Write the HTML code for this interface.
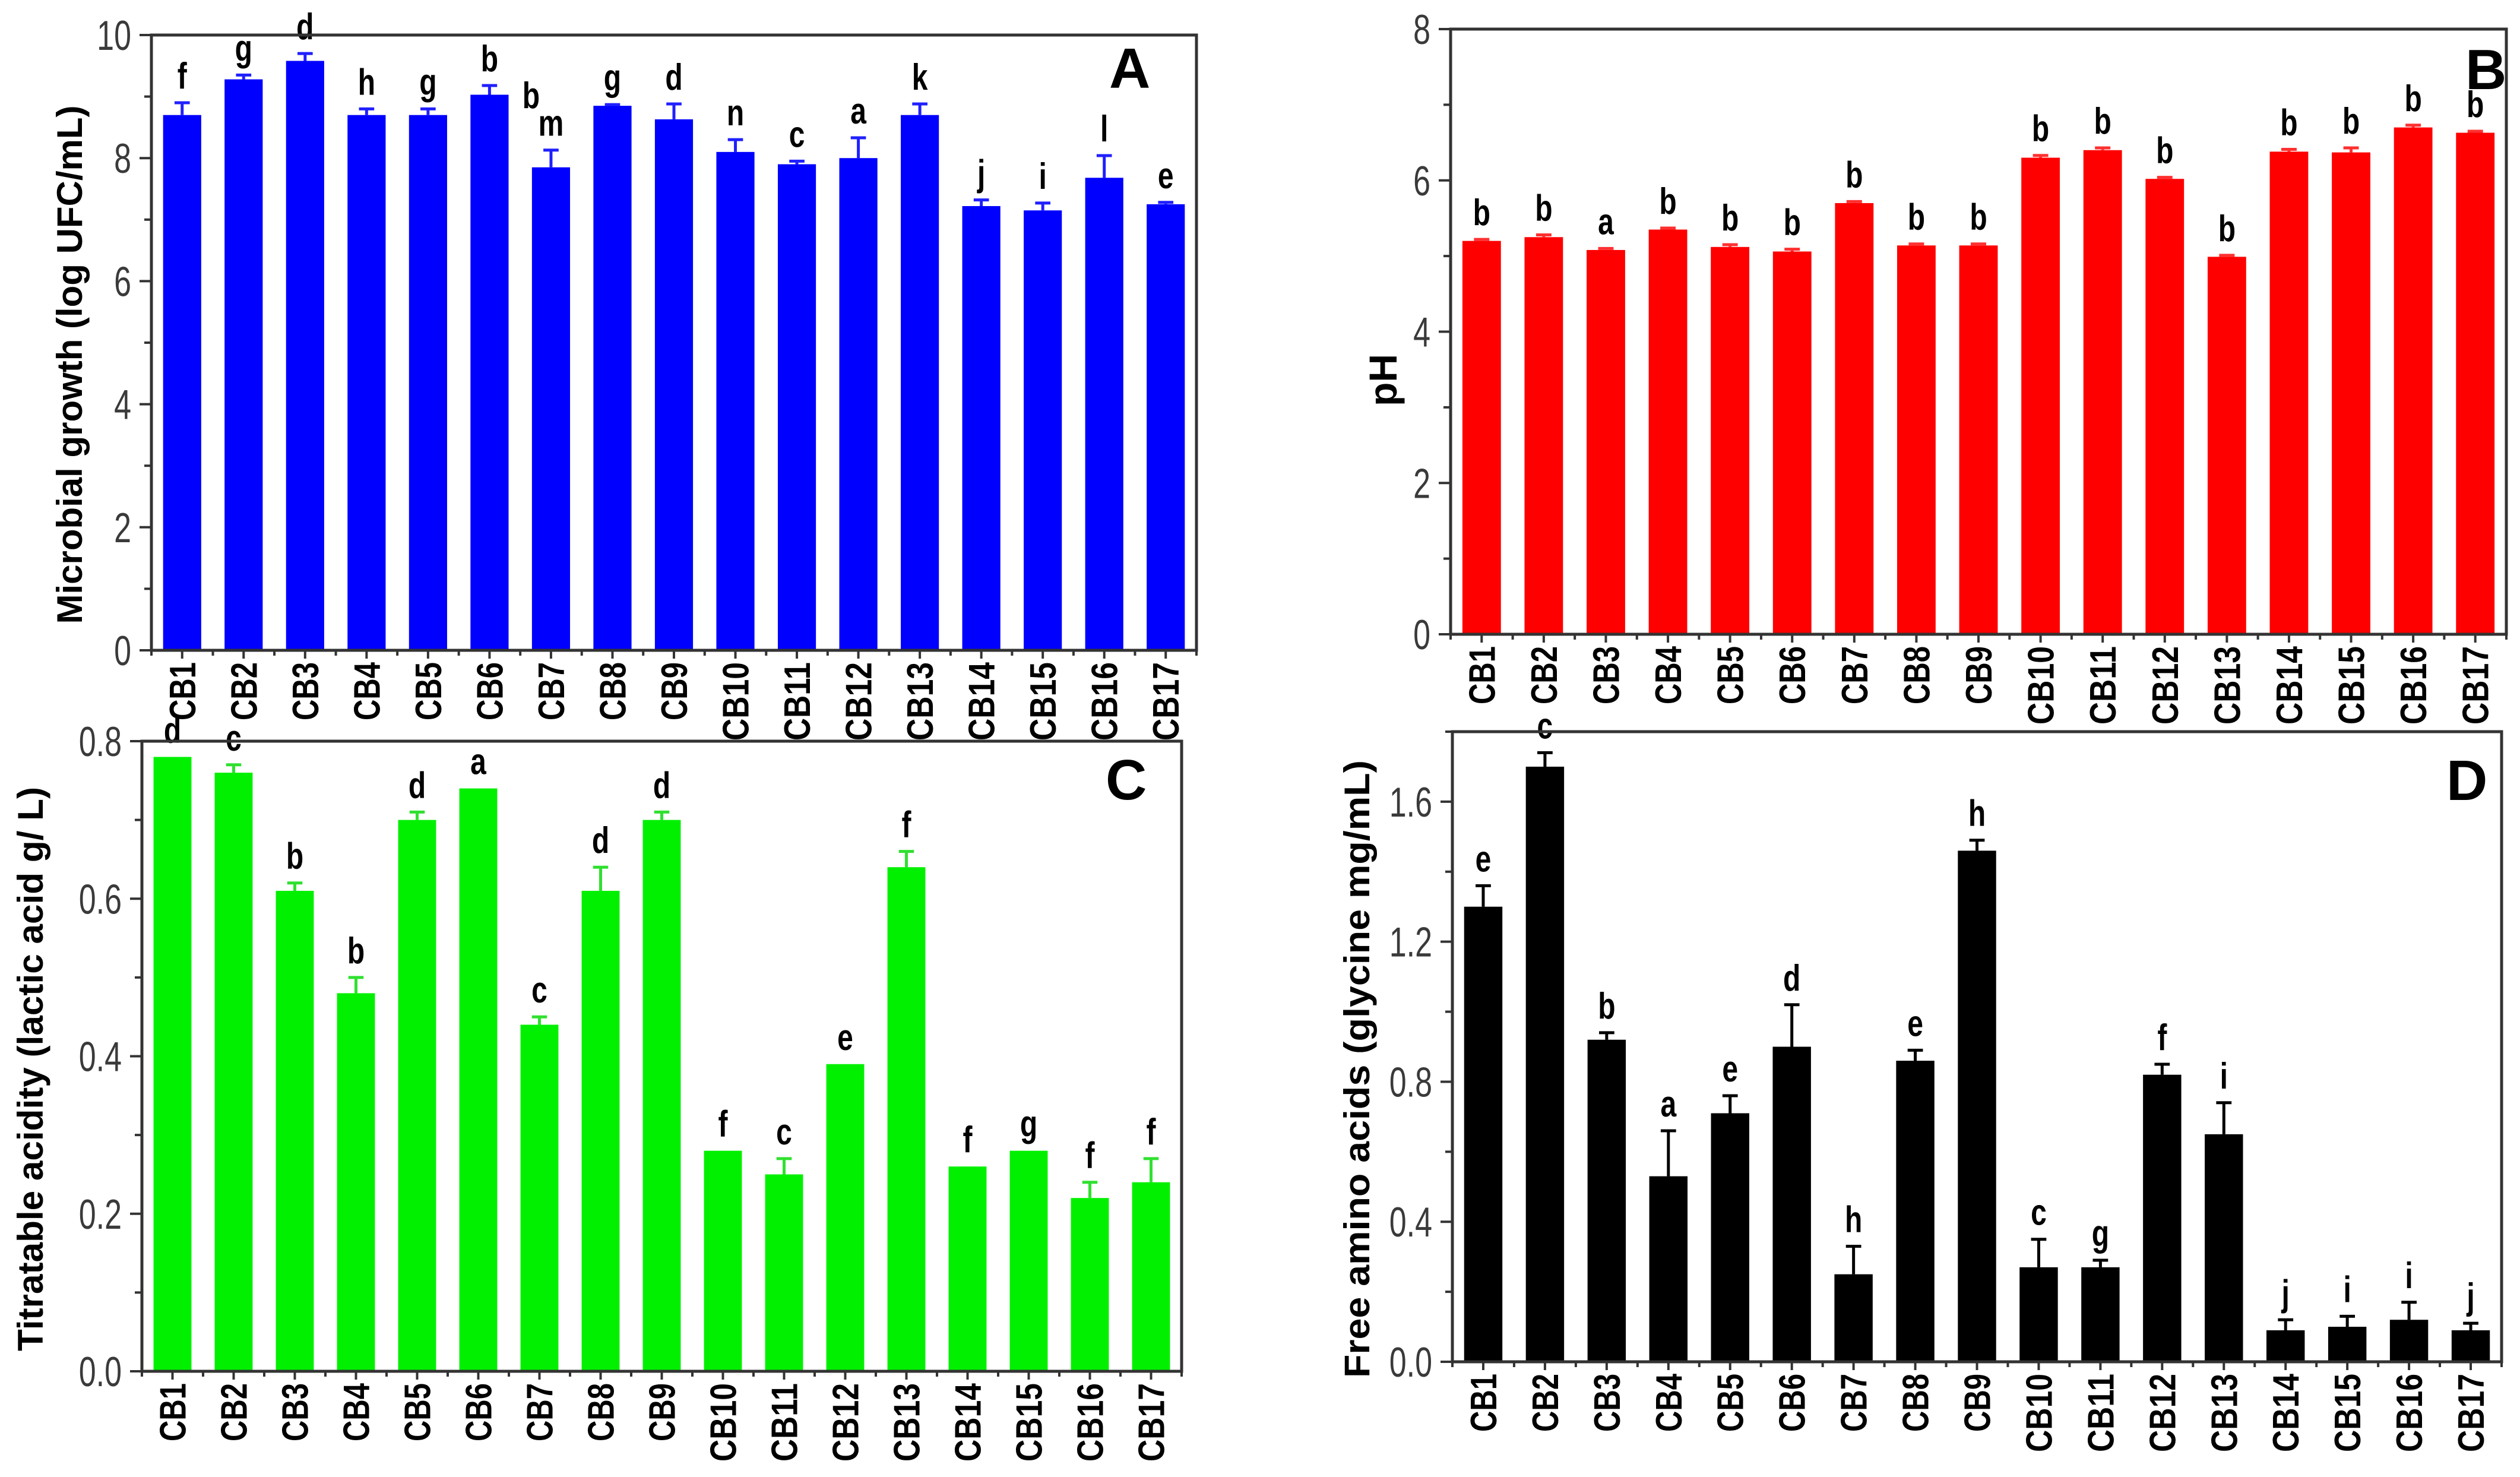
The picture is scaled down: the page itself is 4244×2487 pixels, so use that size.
<!DOCTYPE html>
<html><head><meta charset="utf-8"><style>
html,body{margin:0;padding:0;background:#fff;}
svg{display:block;}
</style></head><body>
<svg id="fig" xmlns="http://www.w3.org/2000/svg" width="4244" height="2487" viewBox="0 0 4244 2487"></svg>
<script>
const categories = ["CB1","CB2","CB3","CB4","CB5","CB6","CB7","CB8","CB9","CB10","CB11","CB12","CB13","CB14","CB15","CB16","CB17"];

const aValues = [8.7,9.28,9.58,8.7,8.7,9.03,7.85,8.85,8.63,8.1,7.9,8.0,8.7,7.22,7.15,7.68,7.25];
const aErrors = [0.2,0.07,0.12,0.1,0.1,0.15,0.28,0.02,0.25,0.2,0.05,0.33,0.18,0.1,0.12,0.36,0.03];
const aLetters = ["f","g","d","h","g","b","m","g","d","n","c","a","k","j","i","l","e"];
const aTicks = [0,2,4,6,8,10];
const aTickLabels = ["0","2","4","6","8","10"];
const aMinor = [1,3,5,7,9];

const bValues = [5.2,5.25,5.08,5.35,5.12,5.06,5.7,5.14,5.14,6.3,6.4,6.02,4.99,6.38,6.37,6.7,6.63];
const bErrors = [0.02,0.03,0.02,0.02,0.03,0.03,0.02,0.02,0.02,0.03,0.03,0.02,0.02,0.03,0.06,0.03,0.02];
const bLetters = ["b","b","a","b","b","b","b","b","b","b","b","b","b","b","b","b","b"];
const bTicks = [0,2,4,6,8];
const bTickLabels = ["0","2","4","6","8"];
const bMinor = [1,3,5,7];

const cValues = [0.78,0.76,0.61,0.48,0.70,0.74,0.44,0.61,0.70,0.28,0.25,0.39,0.64,0.26,0.28,0.22,0.24];
const cErrors = [0,0.01,0.01,0.02,0.01,0,0.01,0.03,0.01,0,0.02,0,0.02,0,0,0.02,0.03];
const cLetters = ["d","c","b","b","d","a","c","d","d","f","c","e","f","f","g","f","f"];
const cTicks = [0,0.2,0.4,0.6,0.8];
const cTickLabels = ["0.0","0.2","0.4","0.6","0.8"];
const cMinor = [0.1,0.3,0.5,0.7];

const dValues = [1.30,1.70,0.92,0.53,0.71,0.90,0.25,0.86,1.46,0.27,0.27,0.82,0.65,0.09,0.10,0.12,0.09];
const dErrors = [0.06,0.04,0.02,0.13,0.05,0.12,0.08,0.03,0.03,0.08,0.02,0.03,0.09,0.03,0.03,0.05,0.02];
const dLetters = ["e","c","b","a","e","d","h","e","h","c","g","f","i","j","i","i","j"];
const dTicks = [0,0.4,0.8,1.2,1.6];
const dTickLabels = ["0.0","0.4","0.8","1.2","1.6"];
const dMinor = [0.2,0.6,1.0,1.4,1.8];

const NS = "http://www.w3.org/2000/svg";
const svg = document.getElementById("fig");
function mk(tag, attrs, parent){
  const e = document.createElementNS(NS, tag);
  for (const k in attrs) e.setAttribute(k, attrs[k]);
  (parent||svg).appendChild(e);
  return e;
}

function panel(cfg){
  const g = mk("g", {});
  
  
  const L=cfg.left, R=cfg.right, T=cfg.top, B=cfg.bottom;
  const yScale = v => B - (v - 0) / cfg.max * (B - T);
  const slot = (R - L) / categories.length;
  const xCenter = i => L + slot * (i + 0.5);
  const bw = slot * 0.62;

  cfg.values.forEach((v,i)=>{
    const r = mk("rect",{x:xCenter(i)-bw/2, y:yScale(v), width:bw, height:B-yScale(v), fill:cfg.color}, g);
    
    
    const e = cfg.errors[i];
    if (e > 0){
      const top = yScale(v+e);
      const eb = mk("path",{d:`M${xCenter(i)} ${yScale(v)} V${top} M${xCenter(i)-bw*0.2} ${top} H${xCenter(i)+bw*0.2}`, stroke:cfg.errColor, "stroke-width":5, fill:"none"}, g);
      
      
    }
    const lt = mk("text",{x:0, y:0, transform:`translate(${xCenter(i)},${yScale(v+e)-24}) scale(1,1.3)`, "text-anchor":"middle", "font-family":"Liberation Sans, sans-serif", "font-weight":"bold", "font-size":48, fill:"#000"}, g);
    lt.textContent = cfg.letters[i];
    
    
    mk("line",{x1:xCenter(i), y1:B, x2:xCenter(i), y2:B+14, stroke:"#333", "stroke-width":4}, g);
    mk("line",{x1:L+slot*i, y1:B, x2:L+slot*i, y2:B+9, stroke:"#333", "stroke-width":4}, g);
    const cl = categories[i];
    const tl = mk("text",{x:0, y:0, transform:`translate(${xCenter(i)+22},${B+20}) rotate(-90)`, "text-anchor":"end", "font-family":"Liberation Sans, sans-serif", "font-weight":"bold", "font-size":62, fill:"#000", textLength: cl.length>3?132:98, lengthAdjust:"spacingAndGlyphs"}, g);
    tl.textContent = cl;
    
    
  });
  mk("line",{x1:R, y1:B, x2:R, y2:B+9, stroke:"#333", "stroke-width":4}, g);

  const fr = mk("rect",{x:L, y:T, width:R-L, height:B-T, fill:"none", stroke:"#333", "stroke-width":5}, g);
  
  

  cfg.ticks.forEach((t,k)=>{
    const y = yScale(t);
    mk("line",{x1:L-20, y1:y, x2:L, y2:y, stroke:"#333", "stroke-width":4}, g);
    const yl = mk("text",{x:0, y:0, transform:`translate(${L-34},${y+25}) scale(1,1.35)`, "text-anchor":"end", "font-family":"Liberation Sans, sans-serif", "font-size":52, fill:"#3a3a3a"}, g);
    yl.textContent = cfg.tickLabels[k];
    
    
  });
  cfg.minor.forEach(t=>{
    const y = yScale(t);
    mk("line",{x1:L-12, y1:y, x2:L, y2:y, stroke:"#333", "stroke-width":4}, g);
  });

  const yt = mk("text",{x:0, y:0, transform:`translate(${cfg.titleX},${cfg.titleY}) rotate(-90)`, "text-anchor":"middle", "font-family":"Liberation Sans, sans-serif", "font-weight":"bold", "font-size":cfg.titleSize, fill:"#000"}, g);
  if (cfg.titleLen){ yt.setAttribute("textLength", cfg.titleLen); yt.setAttribute("lengthAdjust","spacingAndGlyphs"); }
  yt.textContent = cfg.title;
  
  

  const pl = mk("text",{x:cfg.letterX, y:cfg.letterY, "text-anchor":"start", "font-family":"Liberation Sans, sans-serif", "font-weight":"bold", "font-size":96, fill:"#000"}, g);
  pl.textContent = cfg.panelLetter;
  
  
  return {g, xCenter, yScale};
}

const pa = panel({name:"panel-a-microbial-growth", left:255, right:2015, top:59, bottom:1095, max:10, color:"#0000ff", errColor:"#2020ff",
  values:aValues, errors:aErrors, letters:aLetters, ticks:aTicks, tickLabels:aTickLabels, minor:aMinor,
  title:"Microbial growth (log UFC/mL)", titleX:138, titleY:614, titleSize:60, titleLen:873,
  panelLetter:"A", letterX:1868, letterY:148});
const xb = mk("text",{x:0, y:0, transform:`translate(${pa.xCenter(5)+70},182) scale(1,1.3)`, "text-anchor":"middle", "font-family":"Liberation Sans, sans-serif", "font-weight":"bold", "font-size":48, fill:"#000"}, pa.g);
xb.textContent = "b";



panel({name:"panel-b-ph", left:2443, right:4221, top:49, bottom:1068, max:8, color:"#ff0000", errColor:"#ff3030",
  values:bValues, errors:bErrors, letters:bLetters, ticks:bTicks, tickLabels:bTickLabels, minor:bMinor,
  title:"pH", titleX:2352, titleY:640, titleSize:66, titleLen:0,
  panelLetter:"B", letterX:4152, letterY:150});

panel({name:"panel-c-titratable-acidity", left:239, right:1990, top:1248, bottom:2309, max:0.8, color:"#00f000", errColor:"#30e030",
  values:cValues, errors:cErrors, letters:cLetters, ticks:cTicks, tickLabels:cTickLabels, minor:cMinor,
  title:"Titratable acidity (lactic acid g/ L)", titleX:72, titleY:1800, titleSize:60, titleLen:950,
  panelLetter:"C", letterX:1862, letterY:1346});

panel({name:"panel-d-free-amino-acids", left:2446, right:4213, top:1232, bottom:2293, max:1.8, color:"#000000", errColor:"#000000",
  values:dValues, errors:dErrors, letters:dLetters, ticks:dTicks, tickLabels:dTickLabels, minor:dMinor,
  title:"Free amino acids (glycine mg/mL)", titleX:2306, titleY:1800, titleSize:60, titleLen:1040,
  panelLetter:"D", letterX:4120, letterY:1347});
</script>
</body></html>
